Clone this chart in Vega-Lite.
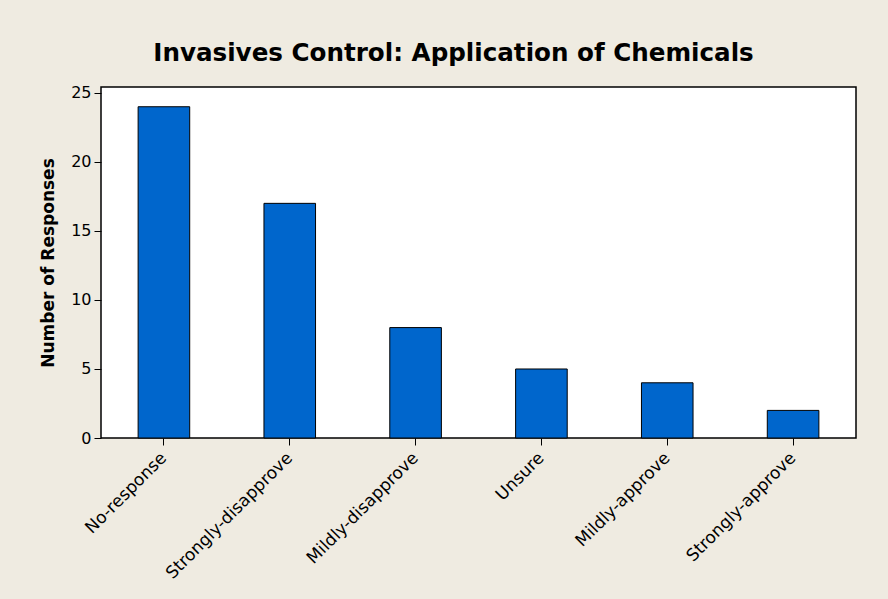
{
  "$schema": "https://vega.github.io/schema/vega-lite/v6.json",
  "autosize": {"type": "none"},
  "width": 755,
  "height": 351,
  "padding": {"left": 101, "top": 87, "right": 32, "bottom": 161},
  "background": "#efebe1",
  "title": {
    "text": "Invasives Control: Application of Chemicals",
    "font": "DejaVu Sans",
    "fontSize": 24.6,
    "fontWeight": "bold",
    "color": "#000000",
    "anchor": "middle",
    "dx": -25,
    "baseline": "alphabetic",
    "offset": -1
  },
  "data": {
    "values": [
      {"response": "No-response", "count": 24},
      {"response": "Strongly-disapprove", "count": 17},
      {"response": "Mildly-disapprove", "count": 8},
      {"response": "Unsure", "count": 5},
      {"response": "Mildly-approve", "count": 4},
      {"response": "Strongly-approve", "count": 2}
    ]
  },
  "mark": {"type": "bar", "color": "#0066cc", "stroke": "#000000", "strokeWidth": 1},
  "encoding": {
    "x": {
      "field": "response",
      "type": "nominal",
      "sort": null,
      "scale": {"paddingInner": 0.59, "paddingOuter": 0.295},
      "axis": {
        "title": null,
        "labelAngle": -45,
        "labelAlign": "right",
        "labelBaseline": "middle",
        "labelFont": "DejaVu Sans",
        "labelFontSize": 17,
        "labelColor": "#000000",
        "labelPadding": 10,
        "tickColor": "#000000",
        "tickSize": 7,
        "domain": false
      }
    },
    "y": {
      "field": "count",
      "type": "quantitative",
      "scale": {"domain": [0, 25.43], "nice": false},
      "axis": {
        "title": "Number of Responses",
        "titleFont": "DejaVu Sans",
        "titleFontSize": 17,
        "titleFontWeight": "bold",
        "titleColor": "#000000",
        "titlePadding": 13,
        "values": [0, 5, 10, 15, 20, 25],
        "labelFont": "DejaVu Sans",
        "labelFontSize": 16,
        "labelColor": "#000000",
        "labelPadding": 3,
        "tickColor": "#000000",
        "tickSize": 7,
        "grid": false,
        "domain": false
      }
    }
  },
  "config": {
    "view": {"fill": "#ffffff", "stroke": "#000000", "strokeWidth": 1.5}
  }
}
